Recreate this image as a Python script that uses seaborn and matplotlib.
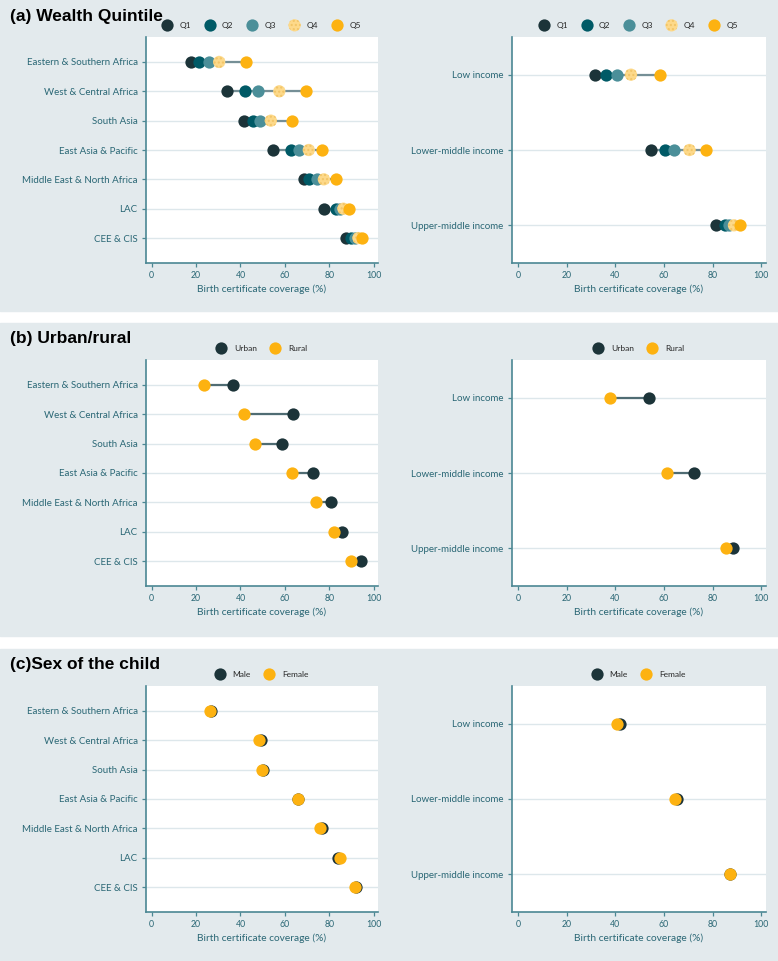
import numpy as np
import pandas as pd
import matplotlib
matplotlib.use("Agg")
import matplotlib.pyplot as plt
from matplotlib.patches import Rectangle
import seaborn as sns

# Categories
regions = ["Eastern & Southern Africa", "West & Central Africa", "South Asia",
           "East Asia & Pacific", "Middle East & North Africa", "LAC", "CEE & CIS"]
income_groups = ["Low income", "Lower-middle income", "Upper-middle income"]

# (a) wealth quintiles - regions
reg_q1 = [17.9, 33.7, 41.5, 54.8, 68.8, 77.5, 87.6]
reg_q2 = [21.3, 42.1, 45.8, 62.6, 70.8, 83.1, 89.9]
reg_q3 = [25.9, 47.8, 48.9, 66.4, 74.6, 84.7, 91.5]
reg_q4 = [30.4, 57.5, 53.7, 70.8, 77.6, 86.4, 93.2]
reg_q5 = [42.4, 69.7, 63.1, 76.9, 83.2, 88.8, 95.0]
# (a) wealth quintiles - income groups
inc_q1 = [31.4, 54.7, 81.6]
inc_q2 = [36.1, 60.5, 85.3]
inc_q3 = [40.5, 64.3, 86.8]
inc_q4 = [46.4, 70.5, 88.8]
inc_q5 = [58.2, 77.2, 91.4]

# (b) urban / rural
reg_urban = [36.5, 63.7, 58.9, 72.5, 80.8, 85.8, 94.3]
reg_rural = [23.6, 41.8, 46.7, 63.1, 74.1, 82.3, 89.9]
inc_urban = [54.0, 72.4, 88.5]
inc_rural = [37.6, 61.2, 85.6]

# (c) sex of the child
reg_male = [26.8, 49.3, 50.2, 66.0, 76.6, 84.0, 92.1]
reg_female = [26.2, 48.4, 49.6, 65.8, 75.8, 84.9, 91.7]
inc_male = [41.7, 65.3, 87.1]
inc_female = [40.7, 64.7, 87.0]

DARK = "#1c3439"
TEAL = "#005a66"
MIDTEAL = "#4b8f99"
LIGHTY = "#fdd98a"
ORANGE = "#fdb211"
BG = "#e3eaed"
AXC = "#4b8793"
TXT = "#2a6775"

sns.set_theme(style="white")
plt.rcParams["font.family"] = ["Lato", "DejaVu Sans"]

W, H = 778, 961
fig = plt.figure(figsize=(W / 100, H / 100), dpi=100)

panel_tops = [0, 323, 649]
panel_bottoms = [311, 636, 961]
titles = ["(a) Wealth Quintile", "(b) Urban/rural", "(c)Sex of the child"]

# grey panel backgrounds
for top, bot in zip(panel_tops, panel_bottoms):
    fig.patches.append(Rectangle((0, 1 - bot / H), 1, (bot - top) / H,
                                 transform=fig.transFigure, color=BG, zorder=-5))


def make_df(cats, series):
    rows = []
    for name, vals in series:
        for c, v in zip(cats, vals):
            rows.append({"cat": c, "series": name, "value": v})
    return pd.DataFrame(rows)


def dumbbell(ax, cats, series, styles, line_color):
    df = make_df(cats, series)
    df["pos"] = df["cat"].map({c: i for i, c in enumerate(cats)})
    rng = df.groupby("pos")["value"].agg(["min", "max"])
    for p in cats:
        ax.axhline(cats.index(p), color="#dde7eb", lw=1.0, zorder=1)
    ax.hlines(rng.index, rng["min"], rng["max"], color=line_color, lw=1.6, zorder=2)
    for i, (name, _) in enumerate(series):
        col, hatch = styles[name]
        sub = df[df["series"] == name]
        sns.scatterplot(data=sub, x="value", y="pos", ax=ax, color=col, s=78,
                        linewidth=0, edgecolor="#f2c466" if hatch else col,
                        hatch=hatch, label=name, zorder=3 + i)
    ax.set_ylim(len(cats) - 1 + (0.85 if len(cats) > 3 else 0.5),
                -0.85 if len(cats) > 3 else -0.5)
    ax.set_xlim(-2.6, 102)
    ax.set_yticks(range(len(cats)))
    ax.set_yticklabels(cats, fontsize=7.0, color=TXT)
    ax.set_xticks(range(0, 101, 20))
    ax.set_xticklabels([str(v) for v in range(0, 101, 20)], fontsize=6.3, color=TXT)
    ax.set_xlabel("Birth certificate coverage (%)", fontsize=7.3, color=TXT, labelpad=3)
    ax.set_ylabel("")
    ax.set_facecolor("white")
    for s in ["top", "right"]:
        ax.spines[s].set_visible(False)
    for s in ["left", "bottom"]:
        ax.spines[s].set_color(AXC)
        ax.spines[s].set_linewidth(1.2)
    ax.tick_params(axis="both", which="both", length=3, width=0.9, color=AXC,
                   left=True, bottom=True, pad=3)
    h, l = ax.get_legend_handles_labels()
    ax.legend(h, l, loc="center", bbox_to_anchor=(0.5, 1.053), ncol=len(l),
              frameon=False, fontsize=6, handlelength=1.0, handletextpad=1.0,
              columnspacing=1.72, borderaxespad=0, borderpad=0)


q_styles = {"Q1": (DARK, None), "Q2": (TEAL, None), "Q3": (MIDTEAL, None),
            "Q4": (LIGHTY, "...."), "Q5": (ORANGE, None)}
ur_styles = {"Urban": (DARK, None), "Rural": (ORANGE, None)}
sex_styles = {"Male": (DARK, None), "Female": (ORANGE, None)}

panels = [
    ([("Q1", reg_q1), ("Q2", reg_q2), ("Q3", reg_q3), ("Q4", reg_q4), ("Q5", reg_q5)],
     [("Q1", inc_q1), ("Q2", inc_q2), ("Q3", inc_q3), ("Q4", inc_q4), ("Q5", inc_q5)],
     q_styles, "#758f96"),
    ([("Urban", reg_urban), ("Rural", reg_rural)],
     [("Urban", inc_urban), ("Rural", inc_rural)], ur_styles, "#4f6c73"),
    ([("Male", reg_male), ("Female", reg_female)],
     [("Male", inc_male), ("Female", inc_female)], sex_styles, "#4f6c73"),
]

for top, title, (reg_series, inc_series, styles, lc) in zip(panel_tops, titles, panels):
    ax_top, ax_bot = top + 37, top + 263
    axl = fig.add_axes([146 / W, 1 - ax_bot / H, 232 / W, (ax_bot - ax_top) / H])
    axr = fig.add_axes([512 / W, 1 - ax_bot / H, 254 / W, (ax_bot - ax_top) / H])
    dumbbell(axl, regions, reg_series, styles, lc)
    dumbbell(axr, income_groups, inc_series, styles, lc)
    fig.text(10 / W, 1 - (top + 16) / H, title, ha="left", va="center",
             fontsize=12.5, fontweight="bold", family=["Liberation Sans", "DejaVu Sans"],
             color="black")

fig.savefig("out.png", dpi=100)
